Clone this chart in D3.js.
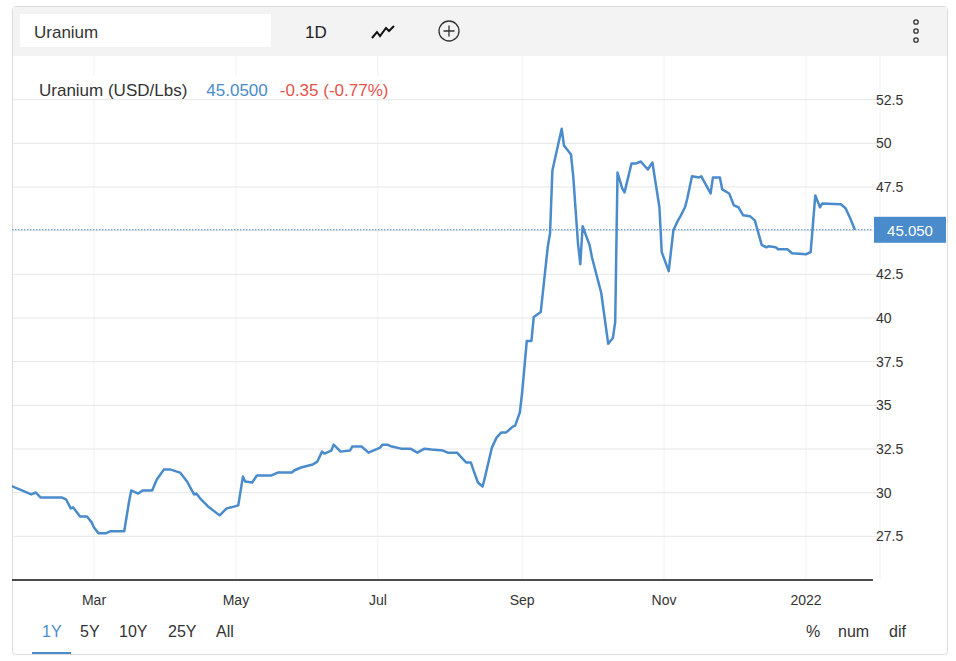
<!DOCTYPE html>
<html><head><meta charset="utf-8">
<script src="https://cdn.jsdelivr.net/npm/d3@7"></script>
<style>body{margin:0;background:#fff;font-family:"Liberation Sans",Arial,sans-serif}</style>
</head><body><svg id="c" width="956" height="661"></svg>
<script>
const dates = ["2021-01-24","2021-01-29","2021-02-02","2021-02-04","2021-02-06","2021-02-09","2021-02-15","2021-02-17","2021-02-19","2021-02-20","2021-02-23","2021-02-26","2021-02-28","2021-03-01","2021-03-03","2021-03-06","2021-03-08","2021-03-14","2021-03-16","2021-03-17","2021-03-20","2021-03-22","2021-03-26","2021-03-28","2021-03-31","2021-04-03","2021-04-07","2021-04-10","2021-04-13","2021-04-14","2021-04-16","2021-04-19","2021-04-24","2021-04-27","2021-04-29","2021-05-02","2021-05-04","2021-05-05","2021-05-08","2021-05-10","2021-05-16","2021-05-19","2021-05-25","2021-05-26","2021-05-29","2021-06-03","2021-06-05","2021-06-07","2021-06-08","2021-06-11","2021-06-12","2021-06-15","2021-06-19","2021-06-20","2021-06-24","2021-06-27","2021-07-02","2021-07-03","2021-07-05","2021-07-07","2021-07-11","2021-07-15","2021-07-18","2021-07-21","2021-07-24","2021-07-29","2021-07-31","2021-08-04","2021-08-06","2021-08-08","2021-08-10","2021-08-11","2021-08-13","2021-08-15","2021-08-16","2021-08-19","2021-08-21","2021-08-23","2021-08-25","2021-08-28","2021-08-29","2021-08-31","2021-09-01","2021-09-03","2021-09-05","2021-09-06","2021-09-09","2021-09-12","2021-09-13","2021-09-14","2021-09-18","2021-09-19","2021-09-20","2021-09-22","2021-09-23","2021-09-25","2021-09-26","2021-09-27","2021-09-30","2021-10-01","2021-10-05","2021-10-08","2021-10-10","2021-10-11","2021-10-12","2021-10-14","2021-10-15","2021-10-18","2021-10-20","2021-10-22","2021-10-25","2021-10-27","2021-10-30","2021-10-31","2021-11-03","2021-11-05","2021-11-07","2021-11-08","2021-11-10","2021-11-11","2021-11-13","2021-11-16","2021-11-17","2021-11-21","2021-11-22","2021-11-25","2021-11-26","2021-11-29","2021-12-01","2021-12-03","2021-12-05","2021-12-08","2021-12-10","2021-12-13","2021-12-15","2021-12-16","2021-12-19","2021-12-20","2021-12-24","2021-12-26","2022-01-01","2022-01-03","2022-01-05","2022-01-07","2022-01-08","2022-01-16","2022-01-18","2022-01-20","2022-01-22"];
const values = [30.41,30.13,29.90,30.01,29.73,29.73,29.73,29.61,29.10,29.16,28.64,28.64,28.30,28.01,27.67,27.67,27.79,27.79,29.44,30.13,29.95,30.13,30.13,30.75,31.32,31.32,31.15,30.64,29.90,29.95,29.61,29.21,28.70,29.10,29.16,29.27,30.92,30.64,30.58,30.98,30.98,31.15,31.15,31.27,31.44,31.61,31.78,32.35,32.24,32.41,32.75,32.35,32.41,32.64,32.64,32.29,32.58,32.75,32.75,32.64,32.52,32.52,32.29,32.52,32.47,32.41,32.29,32.29,32.01,31.72,31.72,31.32,30.58,30.35,30.87,32.58,33.15,33.44,33.44,33.78,33.84,34.58,35.72,38.69,38.69,40.06,40.34,44.05,44.85,48.45,50.84,49.87,49.70,49.36,48.05,44.28,43.08,45.25,44.17,43.48,41.43,38.52,38.86,39.77,48.33,47.42,47.19,48.85,48.85,48.96,48.50,48.90,46.34,43.77,42.68,45.02,45.59,45.82,46.34,46.85,48.11,48.05,48.11,47.13,48.05,48.05,47.36,47.13,46.45,46.34,45.88,45.82,45.59,44.17,44.05,44.11,44.05,43.94,43.94,43.71,43.65,43.77,47.02,46.34,46.56,46.51,46.28,45.71,45.05];
const yTicks = [27.5,30,32.5,35,37.5,40,42.5,45,47.5,50,52.5];
const xTicks = ["2021-03-01","2021-05-01","2021-07-01","2021-09-01","2021-11-01","2022-01-01"];
const lastValue = 45.05;
const legendName = "Uranium (USD/Lbs)", legendValue = "45.0500", legendChange = "-0.35 (-0.77%)";
const ranges = ["1Y","5Y","10Y","25Y","All"], modes = ["%","num","dif"];

const svg = d3.select("#c");
const p = d3.timeParse("%Y-%m-%d");
const data = dates.map((d,i)=>({d:p(d),v:values[i]}));
const L=12,R=873,T=56,B=580;
const x = d3.scaleTime().domain([p("2021-03-01"),p("2022-01-01")]).range([94,806]);
const y = d3.scaleLinear().domain([25,55]).range([B,T]);
const blue="#4a8bcb";

svg.append("rect").attr("x",12.5).attr("y",6.5).attr("width",935).attr("height",648).attr("rx",3).attr("fill","#fff").attr("stroke","#dcdcdc");
svg.append("rect").attr("x",13).attr("y",7).attr("width",934).attr("height",49).attr("fill","#f3f3f3");
svg.append("rect").attr("x",20).attr("y",14).attr("width",251).attr("height",33).attr("fill","#fff");
svg.append("text").attr("x",34).attr("y",38).attr("font-size",17).attr("fill","#333").text("Uranium");
svg.append("text").attr("x",305).attr("y",38).attr("font-size",17).attr("fill","#222").text("1D");
svg.append("path").attr("d","M372,38 L377,32 L380,36 L386,28 L389,31 L394,26").attr("fill","none").attr("stroke","#111").attr("stroke-width",2);
svg.append("circle").attr("cx",449).attr("cy",31).attr("r",10).attr("fill","none").attr("stroke","#333").attr("stroke-width",1.3);
svg.append("path").attr("d","M443.5,31 H454.5 M449,25.5 V36.5").attr("stroke","#333").attr("stroke-width",1.3);
[22,31,40].forEach(cy=>svg.append("circle").attr("cx",916).attr("cy",cy).attr("r",2.2).attr("fill","none").attr("stroke","#333").attr("stroke-width",1.3));

const g = svg.append("g");
g.selectAll(".vg").data(xTicks).join("line").attr("x1",d=>x(p(d))).attr("x2",d=>x(p(d))).attr("y1",T).attr("y2",B).attr("stroke","#edf1f5");
g.append("line").attr("x1",880).attr("x2",880).attr("y1",T).attr("y2",B).attr("stroke","#edf1f5");
g.selectAll(".hg").data(yTicks).join("line").attr("x1",L).attr("x2",883).attr("y1",d=>y(d)).attr("y2",d=>y(d)).attr("stroke","#e6e6e6");
g.selectAll(".yl").data(yTicks.filter(t=>Math.abs(t-lastValue)>1)).join("text").attr("x",876).attr("y",d=>y(d)+5).attr("font-size",14).attr("fill","#333").text(d=>d);
g.selectAll(".xl").data(xTicks).join("text").attr("x",d=>x(p(d))).attr("y",605).attr("text-anchor","middle").attr("font-size",14).attr("fill","#333").text(d=>d3.timeFormat("%m")(p(d))==="01"?d3.timeFormat("%Y")(p(d)):d3.timeFormat("%b")(p(d)));

svg.append("rect").attr("x",30).attr("y",76).attr("width",370).attr("height",22).attr("fill","#fff");
const lg = svg.append("text").attr("x",39).attr("y",96).attr("font-size",17);
lg.append("tspan").attr("fill","#333").text(legendName);
lg.append("tspan").attr("dx",19).attr("fill",blue).text(legendValue);
lg.append("tspan").attr("dx",12).attr("fill","#e5534b").text(legendChange);

svg.append("line").attr("x1",L).attr("x2",R).attr("y1",y(lastValue)).attr("y2",y(lastValue)).attr("stroke",blue).attr("stroke-dasharray","1.5,1.5");
svg.append("clipPath").attr("id","cp").append("rect").attr("x",L).attr("y",T).attr("width",R-L).attr("height",B-T);
svg.append("path").datum(data).attr("clip-path","url(#cp)").attr("fill","none").attr("stroke",blue).attr("stroke-width",2.5).attr("stroke-linejoin","round")
  .attr("d",d3.line().x(d=>x(d.d)).y(d=>y(d.v)));
svg.append("rect").attr("x",874).attr("y",y(lastValue)-13).attr("width",72).attr("height",26).attr("fill",blue);
svg.append("text").attr("x",910).attr("y",y(lastValue)+6).attr("text-anchor","middle").attr("font-size",15).attr("fill","#fff").text(d3.format(".3f")(lastValue));

svg.append("line").attr("x1",L).attr("x2",R).attr("y1",B).attr("y2",B).attr("stroke","#111").attr("stroke-width",1.5);

const bx=[42,80,119,168,216];
svg.selectAll(".rb").data(ranges).join("text").attr("x",(d,i)=>bx[i]).attr("y",637).attr("font-size",16).attr("fill",(d,i)=>i?"#333":blue).text(d=>d);
svg.append("rect").attr("x",32).attr("y",652).attr("width",39).attr("height",2).attr("fill",blue);
const mx=[806,838,889];
svg.selectAll(".mb").data(modes).join("text").attr("x",(d,i)=>mx[i]).attr("y",637).attr("font-size",16).attr("fill","#333").text(d=>d);
</script></body></html>
